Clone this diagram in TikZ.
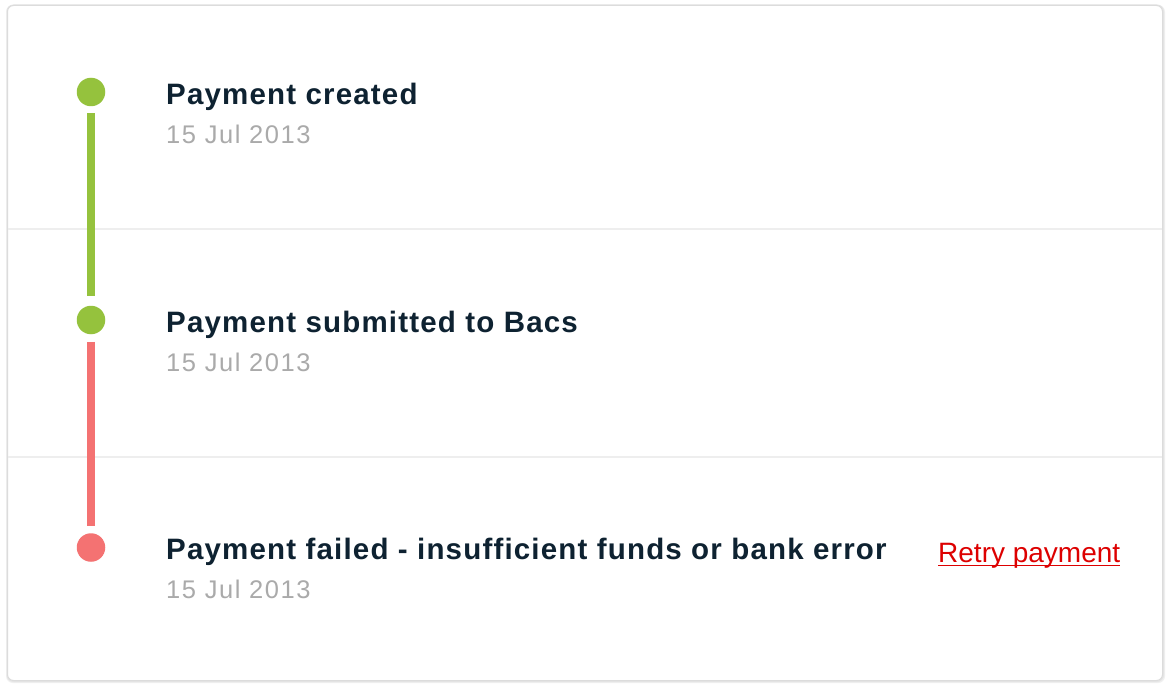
\documentclass[tikz,border=0pt]{standalone}
\usepackage{fontspec}
\setmainfont{Liberation Sans}
\newfontfamily\titlefont[LetterSpace=4.0]{Liberation Sans}
\newfontfamily\datefont[LetterSpace=6.2]{Liberation Sans}
\newfontfamily\linkfont{Liberation Sans}
\definecolor{okgreen}{HTML}{95C23D}
\definecolor{failred}{HTML}{F47272}
\definecolor{titlecol}{HTML}{0E2231}
\definecolor{datecol}{HTML}{AAAAAA}
\definecolor{linkred}{HTML}{DD0000}
\definecolor{divcol}{HTML}{EEEEEE}
\definecolor{cardedge}{HTML}{DCDCDC}
\tikzset{
  dot/.style={circle, inner sep=0pt, minimum size=28.5bp},
  greendot/.style={dot, fill=okgreen},
  reddot/.style={dot, fill=failred},
  track/.style={line width=8bp},
  titletext/.style={anchor=base west, inner sep=0pt, text=titlecol, font=\titlefont\bfseries\fontsize{29.5bp}{31bp}\selectfont},
  datetext/.style={anchor=base west, inner sep=0pt, text=datecol, font=\datefont\fontsize{25.5bp}{28bp}\selectfont},
  linktext/.style={anchor=base west, inner sep=0pt, text=linkred, font=\linkfont\fontsize{28bp}{30bp}\selectfont},
  divider/.style={draw=divcol, line width=2bp}
}
\begin{document}
\begin{tikzpicture}[x=1bp, y=-1bp]
\useasboundingbox (0,0) rectangle (1170,690);
\fill[white] (0,0) rectangle (1170,690);
% card shadow and card
\fill[black!6, rounded corners=7bp] (6,5) rectangle (1165,683);
\fill[black!10, rounded corners=7bp] (6.5,4.5) rectangle (1164,682);
\filldraw[fill=white, draw=cardedge, line width=1bp, rounded corners=6bp] (7.5,5.5) rectangle (1162.5,680.5);
% dividers
\coordinate (d1l) at (8,229); \coordinate (d1r) at (1162,229);
\coordinate (d2l) at (8,457); \coordinate (d2r) at (1162,457);
\draw[divider] (d1l) -- (d1r);
\draw[divider] (d2l) -- (d2r);
% dots
\node[greendot] (c1) at (91,92) {};
\node[greendot] (c2) at (91,320) {};
\node[reddot] (c3) at (91,547.5) {};
% tracks
\draw[track, okgreen] ([yshift=-7bp]c1.south) -- ([yshift=9.5bp]c2.north);
\draw[track, failred] ([yshift=-7.5bp]c2.south) -- ([yshift=7.5bp]c3.north);
% texts
\node[titletext] (t1) at (166,104.3) {Payment created};
\node[datetext] (s1) at (166,143.3) {15 Jul 2013};
\node[titletext] (t2) at (166,332.5) {Payment submitted to Bacs};
\node[datetext] (s2) at (166,371.8) {15 Jul 2013};
\node[titletext] (t3) at (166,559.5) {Payment failed - insufficient funds or bank error};
\node[datetext] (s3) at (166,598.5) {15 Jul 2013};
\node[linktext] (r) at (938,562.5) {Retry payment};
\draw[linkred, line width=1.6bp] ([yshift=-3bp]r.base west) -- ([yshift=-3bp]r.base east);
\end{tikzpicture}
\end{document}
